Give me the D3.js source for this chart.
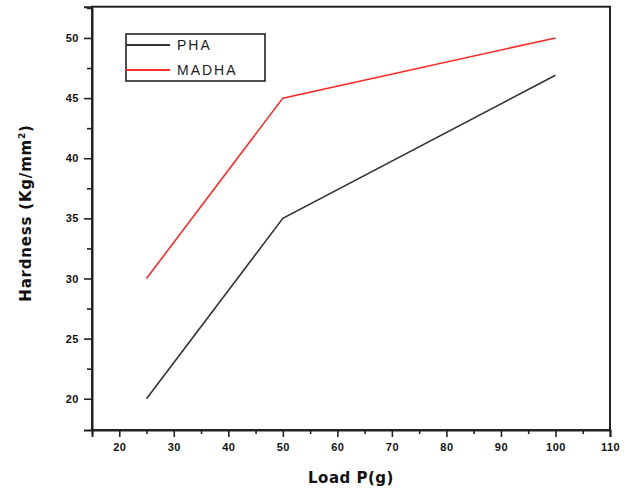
<!DOCTYPE html>
<html>
<head>
<meta charset="utf-8">
<script src="https://cdn.jsdelivr.net/npm/d3@7"></script>
<style>
  body { margin: 0; background: #fff; }
  svg { display: block; font-family: "DejaVu Sans", sans-serif; }
</style>
</head>
<body>
<div id="chart"></div>
<script>
const loads = [25, 50, 100];
const phaValues = [20, 35, 46.9];
const madhaValues = [30, 45, 50];
const xTicks = [20, 30, 40, 50, 60, 70, 80, 90, 100, 110];
const yTicks = [20, 25, 30, 35, 40, 45, 50];

const series = [
    { name: "PHA", color: "#333", values: phaValues },
    { name: "MADHA", color: "#ff2a2a", values: madhaValues }
];

const width = 624, height = 490;
const xDom = [15, 110], yDom = [17.4, 52.6];

const svg = d3.select("#chart").append("svg")
    .attr("width", width).attr("height", height);

const x = d3.scaleLinear().domain(xDom).range([92, 610]);
const y = d3.scaleLinear().domain(yDom).range([430, 6.7]);

// frame
svg.append("rect")
    .attr("x", x(xDom[0])).attr("y", y(yDom[1]))
    .attr("width", x(xDom[1]) - x(xDom[0])).attr("height", y(yDom[0]) - y(yDom[1]))
    .attr("fill", "none").attr("stroke", "#222").attr("stroke-width", 2);

// x axis
svg.append("g").attr("class", "ax").attr("transform", `translate(0,${y(yDom[0])})`)
    .call(d3.axisBottom(x).tickValues(xTicks).tickSize(7).tickPadding(6).tickFormat(d3.format("d")));
svg.append("g").attr("class", "ax").attr("transform", `translate(0,${y(yDom[0])})`)
    .call(d3.axisBottom(x).tickValues(d3.range(15, 110, 10)).tickSize(4).tickFormat(""))
    .call(g => g.select(".domain").remove());

// y axis
svg.append("g").attr("class", "ax").attr("transform", `translate(${x(xDom[0])},0)`)
    .call(d3.axisLeft(y).tickValues(yTicks).tickSize(8).tickPadding(5).tickFormat(d3.format("d")));
svg.append("g").attr("class", "ax").attr("transform", `translate(${x(xDom[0])},0)`)
    .call(d3.axisLeft(y).tickValues(d3.range(22.5, 53, 5)).tickSize(5).tickFormat(""))
    .call(g => g.select(".domain").remove());

svg.selectAll(".tick line").attr("stroke", "#222").attr("stroke-width", 1.6);
svg.selectAll(".domain").attr("stroke", "#222").attr("stroke-width", 2);
svg.selectAll(".tick text")
    .attr("font-size", 11).attr("font-weight", "bold").attr("fill", "#111")
    .attr("letter-spacing", 0.5);

// lines
const line = d3.line().x((d, i) => x(loads[i])).y(d => y(d));
svg.selectAll("path.series").data(series).join("path")
    .attr("class", "series")
    .attr("d", d => line(d.values))
    .attr("fill", "none")
    .attr("stroke", d => d.color)
    .attr("stroke-width", 1.6);

// axis titles
svg.append("text")
    .attr("x", (x(xDom[0]) + x(xDom[1])) / 2).attr("y", 483)
    .attr("text-anchor", "middle")
    .attr("font-size", 15).attr("font-weight", "bold").attr("fill", "#111")
    .attr("letter-spacing", 0.5)
    .text("Load P(g)");

const yt = svg.append("text")
    .attr("transform", `translate(31,213) rotate(-90)`)
    .attr("text-anchor", "middle")
    .attr("font-size", 15).attr("font-weight", "bold").attr("fill", "#111")
    .attr("letter-spacing", 0.8);
yt.append("tspan").text("Hardness (Kg/mm");
yt.append("tspan").attr("font-size", 9).attr("dy", -6).text("2");
yt.append("tspan").attr("dy", 6).text(")");

// legend
const legend = svg.append("g").attr("transform", "translate(126,34)");
legend.append("rect").attr("width", 139).attr("height", 47)
    .attr("fill", "#fff").attr("stroke", "#222").attr("stroke-width", 1.6);
series.forEach((s, i) => {
    const ly = 11 + i * 25;
    legend.append("line").attr("x1", 0).attr("x2", 44).attr("y1", ly).attr("y2", ly)
        .attr("stroke", s.color).attr("stroke-width", 1.8);
    legend.append("text").attr("x", 51).attr("y", ly + 5)
        .attr("font-size", 14).attr("fill", "#222")
        .attr("letter-spacing", 2)
        .attr("font-family", "Liberation Sans, Arial, sans-serif")
        .text(s.name);
});
</script>
</body>
</html>
